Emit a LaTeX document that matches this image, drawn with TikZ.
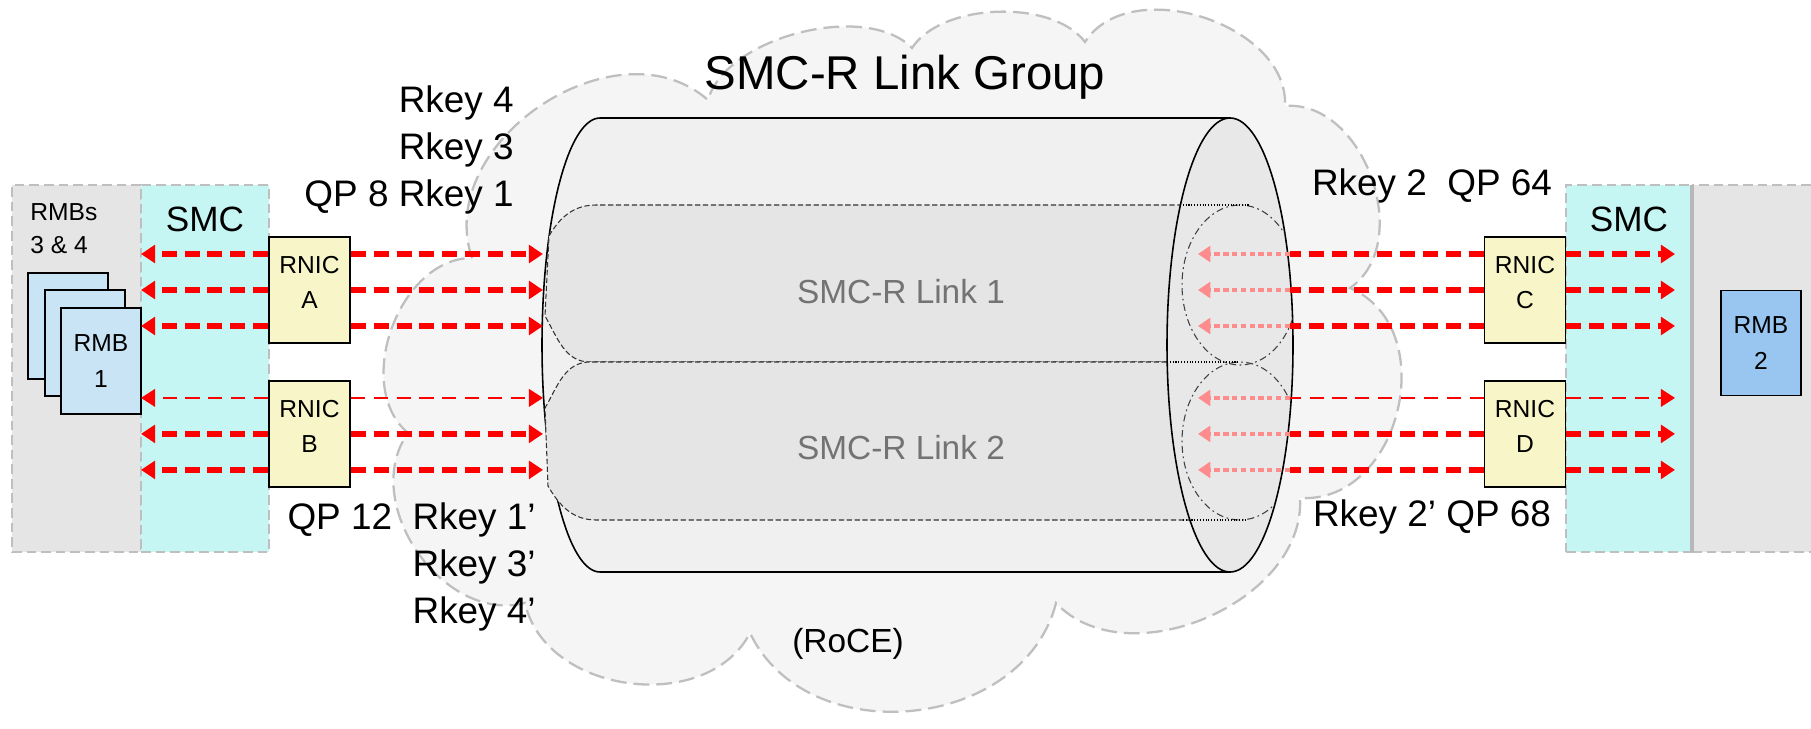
\documentclass[tikz,border=0pt]{standalone}
\usepackage{fontspec}
\setmainfont{Liberation Sans}
\usepackage{xcolor}
\usetikzlibrary{positioning,arrows.meta}
\definecolor{smccyan}{RGB}{198,246,244}
\definecolor{rnicyellow}{RGB}{248,246,200}
\definecolor{rmbblue}{RGB}{200,228,245}
\definecolor{rmbdeep}{RGB}{152,198,240}

\begin{document}
\begin{tikzpicture}[x=0.02cm, y=0.02cm, node distance=0.72cm,
    zoneline/.style={draw=black!25, line width=1.4pt, dash pattern=on 5.5pt off 2.8pt},
    zone/.style={rectangle, zoneline, inner sep=0pt, outer sep=0pt, minimum height=7.34cm},
    rnic/.style={rectangle, draw, line width=1.1pt, fill=rnicyellow, minimum width=1.62cm, minimum height=2.12cm, inner sep=0pt, align=center, text depth=9pt, font=\fontsize{14}{20}\selectfont},
    rmb/.style={rectangle, draw, line width=1.1pt, fill=rmbblue, minimum width=1.6cm, minimum height=2.12cm, inner sep=0pt, align=center, font=\fontsize{14}{20}\selectfont},
    lbl/.style={inner sep=0pt, font=\fontsize{21}{26.6}\selectfont},
    linktxt/.style={inner sep=0pt, text=black!55, font=\fontsize{19}{23}\selectfont},
    cloudline/.style={draw=black!25, fill=black!4, line width=1.3pt, dash pattern=on 9pt off 4pt},
    tube/.style={draw, fill=black!6, line width=0.9pt},
    link/.style={draw=black!80, fill=black!10, line width=0.6pt, dash pattern=on 3pt off 1.5pt},
    facelink/.style={draw=black!75, line width=0.6pt, dash pattern=on 4pt off 2pt on 1pt off 2pt},
    thk/.style={red, line width=3.4pt, dash pattern=on 8.5pt off 4.5pt, -{Triangle[length=8pt,width=10pt]}},
    thn/.style={red, line width=1.2pt, dash pattern=on 8pt off 5pt, -{Triangle[length=8pt,width=10pt]}},
    faint/.style={red!45, line width=2pt, dash pattern=on 3pt off 2pt, -{Triangle[length=7pt,width=9pt]}}]

\fill[white] (0,0) rectangle (1811,728);
\useasboundingbox (0,0) rectangle (1811,728);

\node (hostL) [zone, fill=black!10, minimum width=2.58cm] at (76.5,359.5) {};
\node (smcL) [zone, fill=smccyan, minimum width=2.56cm, right=0pt of hostL] {};
\node (smcR) [zone, fill=smccyan, minimum width=2.52cm] at (1629,359.5) {};
\node (hostR) [zone, draw=none, fill=black!10, minimum width=2.38cm, right=0pt of smcR] {};
\draw[zoneline] (hostR.north east) -- (hostR.north west);
\draw[zoneline] (hostR.south west) -- (hostR.south east);
\draw[black!28, line width=2.2pt] (hostR.north west) -- (hostR.south west);
\node (smcLt) [lbl, font=\fontsize{20}{24}\selectfont, below=0.44cm of smcL.north] {SMC};
\node (smcRt) [lbl, font=\fontsize{20}{24}\selectfont, below=0.44cm of smcR.north] {SMC};

\draw[cloudline] (472,470)
    to[bend left=75, looseness=1.1] (708,628)
    to[bend left=60, looseness=0.8] (912,680)
    to[bend left=55, looseness=0.8] (1085,686)
    to[bend left=75, looseness=1.0] (1285,622)
    to[bend left=75, looseness=1.05] (1350,440)
    to[bend left=80, looseness=1.2] (1300,230)
    to[bend left=70, looseness=1.0] (1056,125)
    to[bend left=70, looseness=1.1] (750,95)
    to[bend left=70, looseness=1.05] (525,125)
    to[bend left=70, looseness=1.05] (408,295)
    to[bend left=70, looseness=1.0] (472,470) -- cycle;

\draw[tube] (1230,610) -- (600,610) arc[start angle=90, end angle=270, x radius=58, y radius=227] -- (1230,156) -- cycle;
\draw[link] (1230,523) -- (596,523) to[out=180,in=60] (549,492) -- (545,412) to[out=-60,in=180] (590,366) -- (1230,366) -- cycle;
\draw[link] (1230,366) -- (590,366) to[out=180,in=60] (545,320) -- (548,242) to[out=-60,in=180] (596,208) -- (1230,208) -- cycle;
\draw[tube, fill=black!9] (1230,383) ellipse [x radius=63, y radius=227];
\begin{scope}
    \clip (1230,383) ellipse [x radius=63, y radius=227];
    \draw[facelink] (1240,443) ellipse [x radius=58, y radius=80];
    \draw[facelink] (1240,287) ellipse [x radius=58, y radius=79];
\end{scope}
\draw[densely dotted, line width=0.6pt] (1180,523) -- (1250,523) (1167,366) -- (1240,366) (1183,208) -- (1245,208);

\node (link1) [linktxt] at (901,436) {SMC-R Link 1};
\node (link2) [linktxt] at (901,280) {SMC-R Link 2};
\node (title) [lbl, font=\fontsize{27}{32}\selectfont] at (905,651) {SMC-R Link Group};
\node (roce) [linktxt, text=black] at (848,84) {(RoCE)};

\node (rmb4) [rmb] at (68,402) {};
\node (rmb3) [rmb] at (85,385) {};
\node (rmb1) [rmb] at (101,367) {RMB\\1};
\node (rmbs) [anchor=north west, inner sep=0pt, align=left, font=\fontsize{14}{18.7}\selectfont] at (30,525) {RMBs\\3 \& 4};
\node (rmb2) [rmb, fill=rmbdeep, minimum height=2.1cm] at (1761,385) {RMB\\2};

\node (rnicA) [rnic] at (309.5,438) {RNIC\\A};
\node (rnicB) [rnic, below=of rnicA] {RNIC\\B};
\node (rnicC) [rnic] at (1525,438) {RNIC\\C};
\node (rnicD) [rnic, below=of rnicC] {RNIC\\D};

\node (keysA) [lbl, align=right, anchor=east] at (514,578) {Rkey 4\\Rkey 3\\QP 8 Rkey 1};
\node (keysB) [lbl, align=right, anchor=east] at (536,161) {QP 12~~Rkey 1'\\Rkey 3'\\Rkey 4'};
\node (keysC) [lbl] at (1432,542) {Rkey 2~~QP 64};
\node (keysD) [lbl] at (1432,211) {Rkey 2' QP 68};

\coordinate (tubeL) at (543,383);
\coordinate (tubeR) at (1290,383);
\coordinate (faceTip) at (1198,383);
\coordinate (tipR) at (1675,383);

\foreach \n/\m/\t in {A/C/thk, B/D/thn}
    \foreach \d/\s in {0.72/\t, 0/thk, -0.72/thk} {
        \coordinate (pw) at ([yshift=\d cm]rnic\n.west);
        \coordinate (pe) at ([yshift=\d cm]rnic\n.east);
        \coordinate (qw) at ([yshift=\d cm]rnic\m.west);
        \coordinate (qe) at ([yshift=\d cm]rnic\m.east);
        \draw[\s] (pw) -- (pw -| smcL.west);
        \draw[\s] (pe) -- (pe -| tubeL);
        \draw[\s, -] (qw) -- (qw -| tubeR);
        \draw[faint] (qw -| tubeR) -- (qw -| faceTip);
        \draw[\s] (qe) -- (qe -| tipR);
    }
\end{tikzpicture}
\end{document}
